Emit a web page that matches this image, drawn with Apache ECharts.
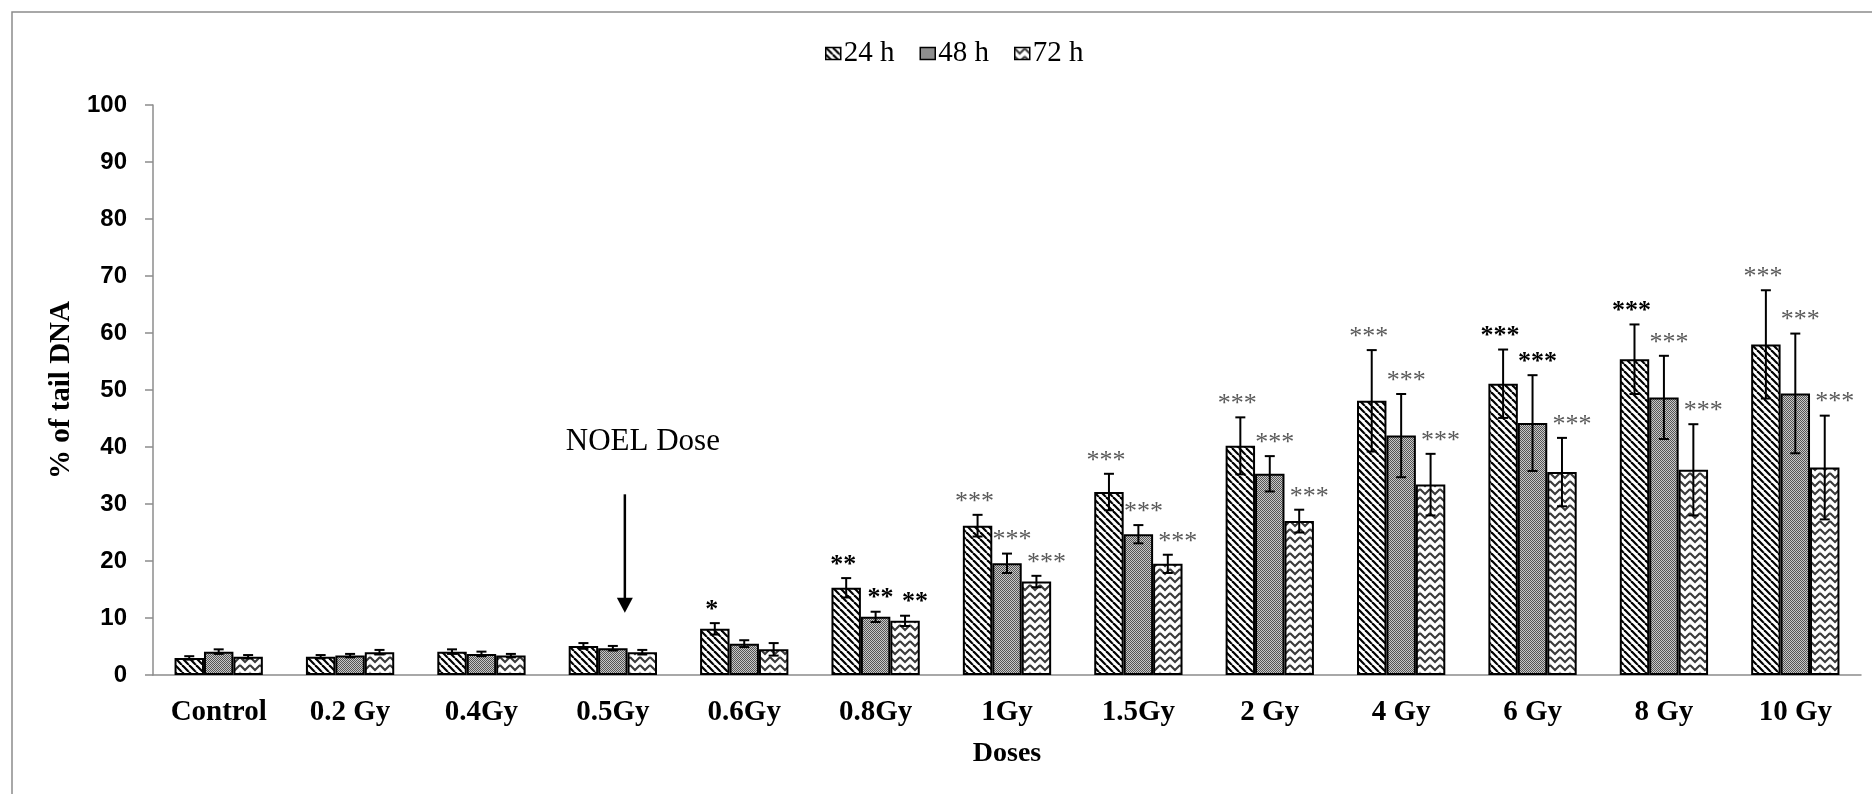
<!DOCTYPE html>
<html>
<head>
<meta charset="utf-8">
<script src="https://cdn.jsdelivr.net/npm/echarts@6/dist/echarts.min.js"></script>
<style>
  html, body { margin: 0; padding: 0; background: #fff; }
  #main { width: 1872px; height: 794px; }
</style>
</head>
<body>
<div id="main"></div>
<script>
// 数据
const doses = ['Control', '0.2 Gy', '0.4Gy', '0.5Gy', '0.6Gy', '0.8Gy', '1Gy', '1.5Gy', '2 Gy', '4 Gy', '6 Gy', '8 Gy', '10 Gy'];
const seriesNames = ['24 h', '48 h', '72 h'];

const mean24 = [3.0, 3.2, 4.1, 5.1, 8.1, 15.3, 26.2, 32.1, 40.2, 48.1, 51.1, 55.4, 58.0];
const mean48 = [4.1, 3.4, 3.7, 4.7, 5.5, 10.2, 19.6, 24.7, 35.3, 42.0, 44.2, 48.7, 49.4];
const mean72 = [3.2, 4.0, 3.4, 4.0, 4.5, 9.5, 16.4, 19.5, 27.0, 33.4, 35.6, 36.0, 36.4];

const err24 = [0.3, 0.3, 0.4, 0.5, 1.0, 1.7, 1.9, 3.2, 5.0, 8.9, 6.0, 6.1, 9.5];
const err48 = [0.4, 0.3, 0.4, 0.4, 0.6, 0.9, 1.7, 1.6, 3.1, 7.3, 8.4, 7.3, 10.5];
const err72 = [0.3, 0.4, 0.3, 0.4, 1.1, 0.9, 1.0, 1.6, 2.0, 5.4, 6.0, 8.0, 9.1];

const sig24 = ['', '', '', '', '*', '**', '***', '***', '***', '***', '***', '***', '***'];
const sig48 = ['', '', '', '', '', '**', '***', '***', '***', '***', '***', '***', '***'];
const sig72 = ['', '', '', '', '', '**', '***', '***', '***', '***', '***', '***', '***'];

const yTicks = { min: 0, max: 100, interval: 10 };

// 星号颜色（黑色的位置）
const darkStars = [[4, 5, 10, 11], [5, 10], [5]];
const starShift = [-3, 5, 10];

// 图案填充
function makeTile (w, h, draw) {
  const c = document.createElement('canvas');
  c.width = w; c.height = h;
  const g = c.getContext('2d');
  g.fillStyle = '#fff';
  g.fillRect(0, 0, w, h);
  draw(g);
  return { image: c, repeat: 'repeat' };
}
const pat24 = makeTile(7, 7, g => {
  g.strokeStyle = '#000'; g.lineWidth = 2.2;
  for (let k = -7; k <= 7; k += 7) { g.beginPath(); g.moveTo(k, 0); g.lineTo(k + 7, 7); g.stroke(); }
});
const pat48 = makeTile(2, 2, g => {
  g.fillStyle = '#c8c8c8'; g.fillRect(0, 0, 2, 2);
  g.fillStyle = '#555'; g.fillRect(0, 0, 1, 1); g.fillRect(1, 1, 1, 1);
});
const pat72 = makeTile(10, 8, g => {
  g.strokeStyle = '#3a3a3a'; g.lineWidth = 2;
  g.beginPath(); g.moveTo(0, 1); g.lineTo(5, 6); g.lineTo(10, 1); g.stroke();
  g.beginPath(); g.moveTo(-5, 4); g.lineTo(0, 9); g.moveTo(10, 9); g.lineTo(15, 4); g.stroke();
});
const patterns = [pat24, pat48, pat72];
const means = [mean24, mean48, mean72];
const errs = [err24, err48, err72];
const sigs = [sig24, sig48, sig72];

const catGap = 0.328;

function errSeries (k) {
  return {
    type: 'custom',
    name: seriesNames[k] + ' err',
    z: 5,
    silent: true,
    data: means[k].map((v, i) => [i, v, errs[k][i]]),
    renderItem: function (params, api) {
      const ci = api.value(0);
      const v = api.value(1);
      const e = api.value(2);
      const s = sigs[k][ci];
      const c = api.coord([ci, v]);
      const bw = api.size([1, 0])[0] * (1 - catGap) / 3;
      const x = c[0] + (k - 1) * bw;
      const top = api.coord([ci, v + e])[1];
      const bot = api.coord([ci, v - e])[1];
      const cap = 5;
      const ls = { stroke: '#000', lineWidth: 2 };
      const children = [
        { type: 'line', shape: { x1: x, y1: top, x2: x, y2: bot }, style: ls },
        { type: 'line', shape: { x1: x - cap, y1: top, x2: x + cap, y2: top }, style: ls },
        { type: 'line', shape: { x1: x - cap, y1: bot, x2: x + cap, y2: bot }, style: ls }
      ];
      if (s) {
        const dark = darkStars[k].indexOf(ci) >= 0;
        children.push({
          type: 'text',
          x: x + starShift[k],
          y: top - 13,
          style: {
            text: s,
            fill: dark ? '#000' : '#5a5a5a',
            font: (dark ? 'bold ' : '') + '26px "Liberation Serif"',
            align: 'center',
            verticalAlign: 'middle'
          }
        });
      }
      return { type: 'group', children: children };
    }
  };
}

const chart = echarts.init(document.getElementById('main'));

const option = {
  animation: false,
  backgroundColor: '#fff',
  grid: { left: 153, right: 11, top: 105, bottom: 119, containLabel: false },
  legend: {
    data: seriesNames,
    left: 820,
    top: 34,
    itemWidth: 15,
    itemHeight: 12,
    itemGap: 25,
    icon: 'rect',
    itemStyle: { borderColor: '#000', borderWidth: 1.5 },
    textStyle: { fontFamily: 'Liberation Serif', fontSize: 29, color: '#000', padding: [0, 0, 0, -2] }
  },
  xAxis: {
    type: 'category',
    data: doses,
    name: 'Doses',
    nameLocation: 'middle',
    nameGap: 65,
    nameTextStyle: { fontFamily: 'Liberation Serif', fontWeight: 'bold', fontSize: 28, color: '#000' },
    axisLine: { lineStyle: { color: '#8c8c8c', width: 1.5 } },
    axisTick: { length: 7, lineStyle: { color: '#8c8c8c', width: 1.5 } },
    axisLabel: {
      interval: 0,
      margin: 23,
      fontFamily: 'Liberation Serif',
      fontWeight: 'bold',
      fontSize: 29,
      color: '#000'
    }
  },
  yAxis: {
    type: 'value',
    min: yTicks.min,
    max: yTicks.max,
    interval: yTicks.interval,
    name: '% of tail DNA',
    nameLocation: 'middle',
    nameGap: 62,
    nameTextStyle: { fontFamily: 'Liberation Serif', fontWeight: 'bold', fontSize: 29, color: '#000' },
    axisLine: { show: true, lineStyle: { color: '#8c8c8c', width: 1.5 } },
    axisTick: { show: true, length: 8, lineStyle: { color: '#8c8c8c', width: 1.5 } },
    axisLabel: {
      margin: 26,
      fontFamily: 'Liberation Sans',
      fontWeight: 'bold',
      fontSize: 24,
      color: '#000'
    },
    splitLine: { show: false }
  },
  series: [0, 1, 2].map(k => ({
    type: 'bar',
    name: seriesNames[k],
    data: means[k],
    barGap: '0%',
    barCategoryGap: (catGap * 100) + '%',
    itemStyle: { color: patterns[k], borderColor: '#000', borderWidth: 2 }
  })).concat([0, 1, 2].map(errSeries))
};

chart.setOption(option);

// NOEL 箭头和文字
const noelCat = '0.5Gy';
const arrowFrom = chart.convertToPixel({ gridIndex: 0 }, [noelCat, 31.7]);
const arrowTo = chart.convertToPixel({ gridIndex: 0 }, [noelCat, 10.9]);
const textPos = chart.convertToPixel({ gridIndex: 0 }, [noelCat, 41.2]);
const ax = arrowFrom[0] + 12;

chart.setOption({
  graphic: [
    {
      type: 'rect',
      shape: { x: 12, y: 12, width: 1900, height: 820 },
      style: { fill: 'none', stroke: '#8c8c8c', lineWidth: 1.5 },
      silent: true
    },
    {
      type: 'line',
      shape: { x1: ax, y1: arrowFrom[1], x2: ax, y2: arrowTo[1] - 14 },
      style: { stroke: '#000', lineWidth: 2.5 }
    },
    {
      type: 'polygon',
      shape: { points: [[ax - 8, arrowTo[1] - 15], [ax + 8, arrowTo[1] - 15], [ax, arrowTo[1]]] },
      style: { fill: '#000' }
    },
    {
      type: 'text',
      x: textPos[0] + 30,
      y: textPos[1] + 2,
      style: {
        text: 'NOEL Dose',
        font: '31px "Liberation Serif"',
        fill: '#000',
        align: 'center',
        verticalAlign: 'middle'
      }
    }
  ]
});
</script>
</body>
</html>
